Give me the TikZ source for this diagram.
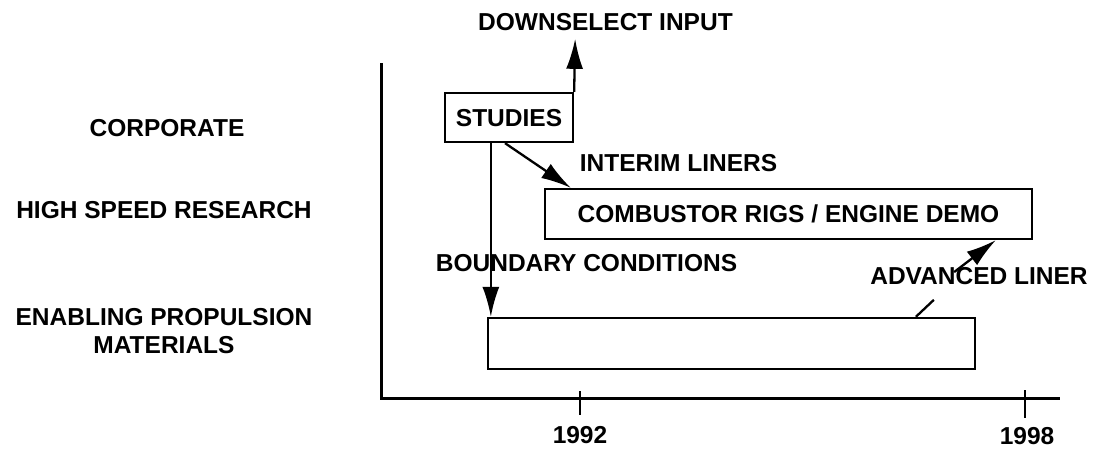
\documentclass[tikz,border=0pt]{standalone}
\usepackage{fontspec}
\setmainfont{Liberation Sans}
\usetikzlibrary{arrows.meta,calc}
\tikzset{
  lbl/.style={font=\fontsize{24.5}{28}\selectfont\bfseries, inner sep=0pt, text height=17.5pt, text depth=0pt},
  lbl2/.style={font=\fontsize{24.5}{28}\selectfont\bfseries, inner sep=0pt, align=center},
  boxn/.style={draw, line width=2.3pt, inner sep=0pt, font=\fontsize{24.5}{28}\selectfont\bfseries, text height=17.5pt, text depth=0pt},
  conn/.style={line width=2.3pt},
  arr/.style={line width=2.3pt, -{Latex[length=30pt,width=17pt]}},
  axisline/.style={line width=3pt, line join=miter},
  tick/.style={line width=2.3pt}
}
\begin{document}
\begin{tikzpicture}[x=1pt,y=-1pt]
\useasboundingbox (0,0) rectangle (1096,450);
% row labels
\node[lbl] (corp) at (167,128) {CORPORATE};
\node[lbl] (hsr) at (164,210) {HIGH SPEED RESEARCH};
\node[lbl2] (epml) at (164,331) {ENABLING PROPULSION\\MATERIALS};
% axes
\draw[axisline] (381,63) -- (381,398) -- (1060,398);
\draw[tick] (580,391) -- (580,415);
\draw[tick] (1025,390) -- (1025,418);
\node[lbl] (y1992) at (580,435) {1992};
\node[lbl] (y1998) at (1027,436) {1998};
% boxes
\node[boxn, minimum width=128pt, minimum height=49pt] (studies) at (509,117.5) {STUDIES};
\node[boxn, minimum width=487pt, minimum height=50pt] (comb) at (788.5,214) {COMBUSTOR RIGS / ENGINE DEMO};
\node[draw, line width=2.3pt, inner sep=0pt, minimum width=487pt, minimum height=51pt] (epm) at (731.5,343.5) {};
% labels
\node[lbl] (dsel) at (605.5,22) {DOWNSELECT INPUT};
\node[lbl] (interim) at (678.5,163) {INTERIM LINERS};
\node[lbl] (bound) at (586.5,263) {BOUNDARY CONDITIONS};
\node[lbl] (adv) at (979,276) {ADVANCED LINER};
% connectors
\coordinate (dtip) at ($(studies.north east)+(1,-53)$);
\draw[arr] (studies.north east) -- (dtip);
\draw[arr] ($(studies.south)+(-4,0)$) -- ($(comb.north west)+(27,0)$);
\draw[arr] ($(studies.south west)+(47,0)$) -- ($(epm.north west)+(4,0)$);
\coordinate (advlow) at ($(epm.north west)+(447,-17)$);
\coordinate (advhigh) at ($(adv.north west)+(84,5)$);
\draw[conn] ($(epm.north west)+(429,0)$) -- (advlow);
\draw[arr] (advhigh) -- ($(comb.south west)+(452,0)$);
\end{tikzpicture}
\end{document}
